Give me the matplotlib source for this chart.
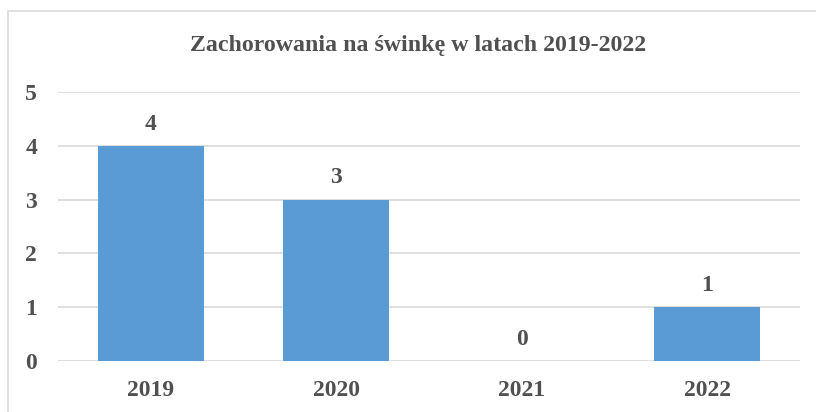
import matplotlib
matplotlib.use("Agg")
import matplotlib.pyplot as plt
from matplotlib.patches import Rectangle

years = ["2019", "2020", "2021", "2022"]
cases = [4, 3, 0, 1]
yticks = [0, 1, 2, 3, 4, 5]
title = "Zachorowania na świnkę w latach 2019-2022"

TXT = "#505050"
GRID = "#D9D9D9"
BAR = "#5B9BD5"
plt.rcParams["font.family"] = ["Liberation Serif", "DejaVu Serif"]

fig = plt.figure(figsize=(8.16, 4.12), dpi=100)
fig.patches.append(Rectangle((8/816, -0.1), 1.2, (412-11)/412 + 0.1,
                             transform=fig.transFigure, fill=False,
                             edgecolor=GRID, linewidth=1.2))
ax = fig.add_axes([58/816, 51/412, 742/816, 269/412])
x = list(range(len(years)))
ax.bar(x, cases, width=0.57, color=BAR, zorder=2)
ax.set_xlim(-0.5, len(years) - 0.5)
ax.set_ylim(0, 5)
ax.set_yticks(yticks)
ax.set_xticks(x)
ax.set_xticklabels(years)
ax.tick_params(axis="both", length=0, labelsize=17, labelcolor=TXT)
ax.tick_params(axis="y", pad=15)
ax.tick_params(axis="x", pad=14)
for lab in ax.get_xticklabels() + ax.get_yticklabels():
    lab.set_fontweight("bold")
ax.grid(axis="y", color=GRID, linewidth=1.2, zorder=0)
for s in ax.spines.values():
    s.set_visible(False)
for xi, v in zip(x, cases):
    ax.annotate(str(v), (xi, v), xytext=(0, 8), textcoords="offset points",
                ha="center", va="bottom", fontsize=17, fontweight="bold", color=TXT)
fig.text(418.5 / 816, 1 - 45/412, title, ha="center", va="center",
         fontsize=17.2, fontweight="bold", color=TXT)
fig.savefig("out.png", dpi=100)
